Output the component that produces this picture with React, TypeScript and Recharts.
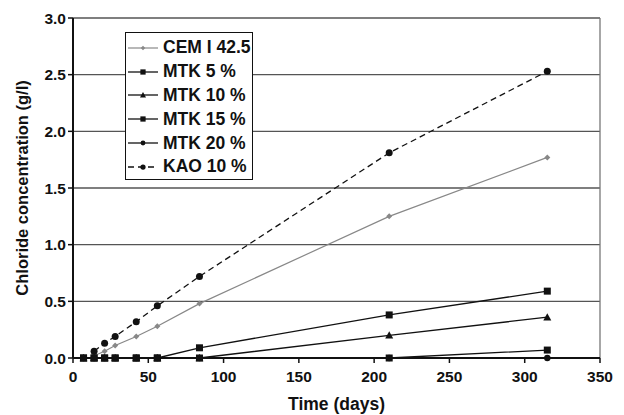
import { LineChart, Line, CartesianGrid, XAxis, YAxis, Legend, ReferenceLine } from 'recharts'

const days = [7, 14, 21, 28, 42, 56, 84, 210, 315]
const cem = [null, 0.02, 0.06, 0.11, 0.19, 0.28, 0.48, 1.25, 1.77]
const mtk5 = [0, 0, 0, 0, 0, 0, 0.09, 0.38, 0.59]
const mtk10 = [0, 0, 0, 0, 0, 0, 0, 0.2, 0.36]
const mtk15 = [0, 0, 0, 0, 0, 0, 0, 0, 0.07]
const mtk20 = [0, 0, 0, 0, 0, 0, 0, 0, 0]
const kao = [null, 0.06, 0.13, 0.19, 0.32, 0.46, 0.72, 1.81, 2.53]

const xTicks = [0, 50, 100, 150, 200, 250, 300, 350]
const yTicks = [0, 0.5, 1.0, 1.5, 2.0, 2.5, 3.0]

const data = days.map((d, i) => ({
  day: d,
  cem: cem[i],
  mtk5: mtk5[i],
  mtk10: mtk10[i],
  mtk15: mtk15[i],
  mtk20: mtk20[i],
  kao: kao[i],
}))

type Shape = 'diamond' | 'square' | 'triangle' | 'circle'

const series: { key: string; name: string; color: string; width: number; dash?: string; shape: Shape; size: number }[] = [
  { key: 'cem', name: 'CEM I 42.5', color: '#888', width: 1.2, shape: 'diamond', size: 3 },
  { key: 'mtk5', name: 'MTK 5 %', color: '#111', width: 1.3, shape: 'square', size: 3.5 },
  { key: 'mtk10', name: 'MTK 10 %', color: '#111', width: 1.3, shape: 'triangle', size: 4 },
  { key: 'mtk15', name: 'MTK 15 %', color: '#111', width: 1.3, shape: 'square', size: 3.5 },
  { key: 'mtk20', name: 'MTK 20 %', color: '#111', width: 1.3, shape: 'circle', size: 3.2 },
  { key: 'kao', name: 'KAO 10 %', color: '#111', width: 1.3, dash: '6 4', shape: 'circle', size: 3.5 },
]

function Marker({ cx, cy, shape, size, color }: { cx: number; cy: number; shape: Shape; size: number; color: string }) {
  if (shape === 'square') return <rect x={cx - size} y={cy - size} width={size * 2} height={size * 2} fill={color} />
  if (shape === 'triangle')
    return <polygon points={`${cx},${cy - size} ${cx + size},${cy + size * 0.8} ${cx - size},${cy + size * 0.8}`} fill={color} />
  if (shape === 'diamond')
    return <polygon points={`${cx},${cy - size} ${cx + size},${cy} ${cx},${cy + size} ${cx - size},${cy}`} fill={color} />
  return <circle cx={cx} cy={cy} r={size} fill={color} />
}

const font = '"Liberation Sans", Arial, sans-serif'

function renderLegend() {
  return (
    <div
      style={{
        width: 128,
        height: 148,
        border: '1.5px solid #111',
        background: '#fff',
        fontFamily: font,
        fontWeight: 'bold',
        fontSize: 17.5,
        color: '#111',
        padding: '3px 0 0 2px',
        boxSizing: 'border-box',
        whiteSpace: 'nowrap',
      }}
    >
      {series.map((s) => (
        <div key={s.key} style={{ display: 'flex', alignItems: 'center', height: 23.8 }}>
          <svg width={30} height={12} style={{ marginRight: 5, flexShrink: 0 }}>
            <line x1={0} y1={6} x2={30} y2={6} stroke={s.color} strokeWidth={s.width} strokeDasharray={s.dash} />
            <Marker cx={15} cy={6} shape={s.shape} size={s.size * 0.75} color={s.color} />
          </svg>
          <span>{s.name}</span>
        </div>
      ))}
    </div>
  )
}

export default function App() {
  return (
    <div style={{ position: 'absolute', left: 0, top: 0, background: '#fff' }}>
      <LineChart width={624} height={415} data={data} margin={{ top: 18, right: 24, left: 13, bottom: 0 }}>
        <CartesianGrid vertical={false} stroke="#555" strokeWidth={1.3} />
        <XAxis
          dataKey="day"
          type="number"
          domain={[0, 350]}
          ticks={xTicks}
          height={57}
          axisLine={{ stroke: '#111', strokeWidth: 2 }}
          tickLine={{ stroke: '#111', strokeWidth: 1.5 }}
          tickSize={5}
          tick={{ fill: '#111', fontSize: 15.5, fontWeight: 'bold', fontFamily: font, dy: 6 }}
          label={{ value: 'Time (days)', position: 'insideBottom', offset: 5, fill: '#111', fontSize: 17.5, fontWeight: 'bold', fontFamily: font }}
        />
        <YAxis
          type="number"
          domain={[0, 3]}
          ticks={yTicks}
          width={60}
          tickFormatter={(v: number) => v.toFixed(1)}
          axisLine={{ stroke: '#111', strokeWidth: 2 }}
          tickLine={{ stroke: '#111', strokeWidth: 1.5 }}
          tickSize={5}
          tick={{ fill: '#111', fontSize: 15.5, fontWeight: 'bold', fontFamily: font }}
          label={{ value: 'Chloride concentration (g/l)', angle: -90, position: 'insideLeft', offset: 0, dx: 9, dy: 0, fill: '#111', fontSize: 16.5, fontWeight: 'bold', fontFamily: font, style: { textAnchor: 'middle' } }}
        />
        <ReferenceLine x={350} stroke="#777" strokeWidth={1.3} />
        {series.map((s) => (
          <Line
            key={s.key}
            dataKey={s.key}
            name={s.name}
            stroke={s.color}
            strokeWidth={s.width}
            strokeDasharray={s.dash}
            isAnimationActive={false}
            activeDot={false}
            dot={(p: any) => {
              if (p.cx == null || p.cy == null || p.value == null) return <g key={p.key} />
              return (
                <g key={p.key}>
                  <Marker cx={p.cx} cy={p.cy} shape={s.shape} size={s.size} color={s.color} />
                </g>
              )
            }}
          />
        ))}
        <Legend layout="vertical" verticalAlign="middle" align="center" wrapperStyle={{ left: 125, top: 32, width: 'auto' }} content={renderLegend} />
      </LineChart>
    </div>
  )
}
